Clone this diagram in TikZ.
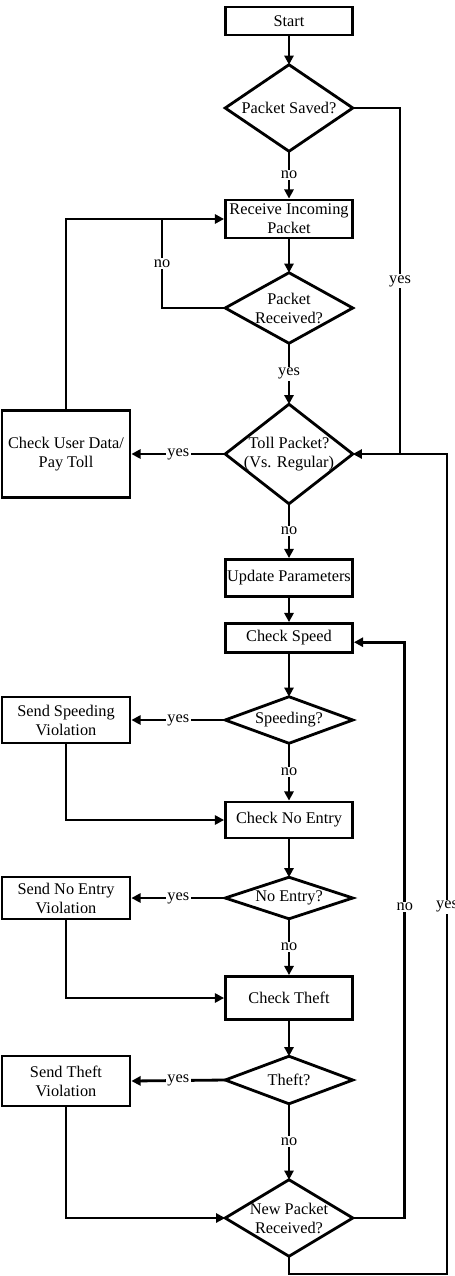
\documentclass[tikz,border=0pt]{standalone}
\usepackage{fontspec}
\setmainfont{Liberation Serif}
\usetikzlibrary{arrows.meta}
\tikzset{
    every node/.style={font=\fontsize{11.6}{13.5}\selectfont},
    proc/.style={draw, rectangle, line width=2pt, minimum width=3.175cm, align=center, inner sep=1pt},
    side/.style={draw, rectangle, line width=2pt, minimum width=3.2cm, align=center, inner sep=1pt},
    decision/.style={rectangle, minimum width=3.175cm, inner sep=0pt, align=center},
    flow/.style={line width=2pt, -{Triangle[length=6.5pt,width=6.5pt]}},
    link/.style={line width=2pt},
    lbl/.style={fill=white, inner sep=1pt}
}

\begin{document}
\begin{tikzpicture}[x=0.025cm, y=-0.025cm]
    \useasboundingbox (0,0) rectangle (454,1276);

    % main column
    \node[proc, minimum height=0.7cm] (start) at (289,21) {Start};
    \node[decision, minimum height=2.15cm] (saved) at (289,108) {Packet Saved?};
    \node[proc, minimum height=0.95cm] (recv) at (289,219) {Receive Incoming\\Packet};
    \node[decision, minimum height=1.75cm] (gotpkt) at (289,308) {Packet\\Received?};
    \node[decision, minimum height=2.475cm] (toll) at (289,454) {Toll Packet?\\(Vs. Regular)};
    \node[proc, minimum height=0.925cm] (update) at (289,578) {Update Parameters};
    \node[proc, minimum height=0.725cm] (chkspeed) at (289,638) {Check Speed};
    \node[decision, minimum height=1.15cm] (speeding) at (289,720) {Speeding?};
    \node[proc, minimum height=0.9cm] (chkentry) at (289,820) {Check No Entry};
    \node[decision, minimum height=1.025cm] (noentry) at (289,898) {No Entry?};
    \node[proc, minimum height=1.075cm] (chktheft) at (289,998) {Check Theft};
    \node[decision, minimum height=1.175cm] (theft) at (289,1080) {Theft?};
    \node[decision, minimum height=1.9cm] (newpkt) at (289,1218) {New Packet\\Received?};

    % side boxes
    \node[side, minimum height=2.175cm] (paytoll) at (66,454) {Check User Data/\\Pay Toll};
    \node[side, minimum height=1.15cm] (sendspeed) at (66,720) {Send Speeding\\Violation};
    \node[side, minimum height=1.05cm] (sendentry) at (66,898) {Send No Entry\\Violation};
    \node[side, minimum height=1.25cm] (sendtheft) at (66,1081) {Send Theft\\Violation};

    \foreach \d in {saved,gotpkt,toll,speeding,noentry,theft,newpkt}
        \draw[link] (\d.north) -- (\d.east) -- (\d.south) -- (\d.west) -- cycle;

    \coordinate (nojoin) at (162,219);
    \coordinate (yesjoin) at (400,454);
    \coordinate (corner) at (447,1274);

    % down the middle
    \draw[flow] (start) -- (saved);
    \draw[flow] (saved) -- node[lbl] {no} (recv);
    \draw[flow] (recv) -- (gotpkt);
    \draw[flow] (gotpkt) -- node[lbl] {yes} (toll);
    \draw[flow] (toll) -- node[lbl] {no} (update);
    \draw[flow] (update) -- (chkspeed);
    \draw[flow] (chkspeed) -- (speeding);
    \draw[flow] (speeding) -- node[lbl] {no} (chkentry);
    \draw[flow] (chkentry) -- (noentry);
    \draw[flow] (noentry) -- node[lbl] {no} (chktheft);
    \draw[flow] (chktheft) -- (theft);
    \draw[flow] (theft) -- node[lbl] {no} (newpkt);

    % yes branches to the left
    \draw[flow] (toll.west) -- node[lbl] {yes} (paytoll.east);
    \draw[flow] (speeding.west) -- node[lbl] {yes} (sendspeed.east);
    \draw[flow] (noentry.west) -- node[lbl] {yes} (sendentry.east);
    \draw[flow] (theft.west) -- node[lbl] {yes} (sendtheft.east);

    % back into the column
    \draw[flow] (paytoll.north) |- (recv.west);
    \draw[link] (gotpkt.west) -| node[lbl, pos=0.75] {no} (nojoin);
    \draw[flow] (sendspeed.south) |- (chkentry.west);
    \draw[flow] (sendentry.south) |- (chktheft.west);
    \draw[flow] (sendtheft.south) |- (newpkt.west);

    % loops on the right
    \draw[link] (saved.east) -| node[lbl, pos=0.75] {yes} (yesjoin);
    \draw[flow] (newpkt.east) -- ++(52,0) |- node[lbl, pos=0.27] {no} ([yshift=-3pt]chkspeed.east);
    \draw[flow] (newpkt.south) |- (corner) |- node[lbl, pos=0.224] {yes} (toll.east);
\end{tikzpicture}
\end{document}
